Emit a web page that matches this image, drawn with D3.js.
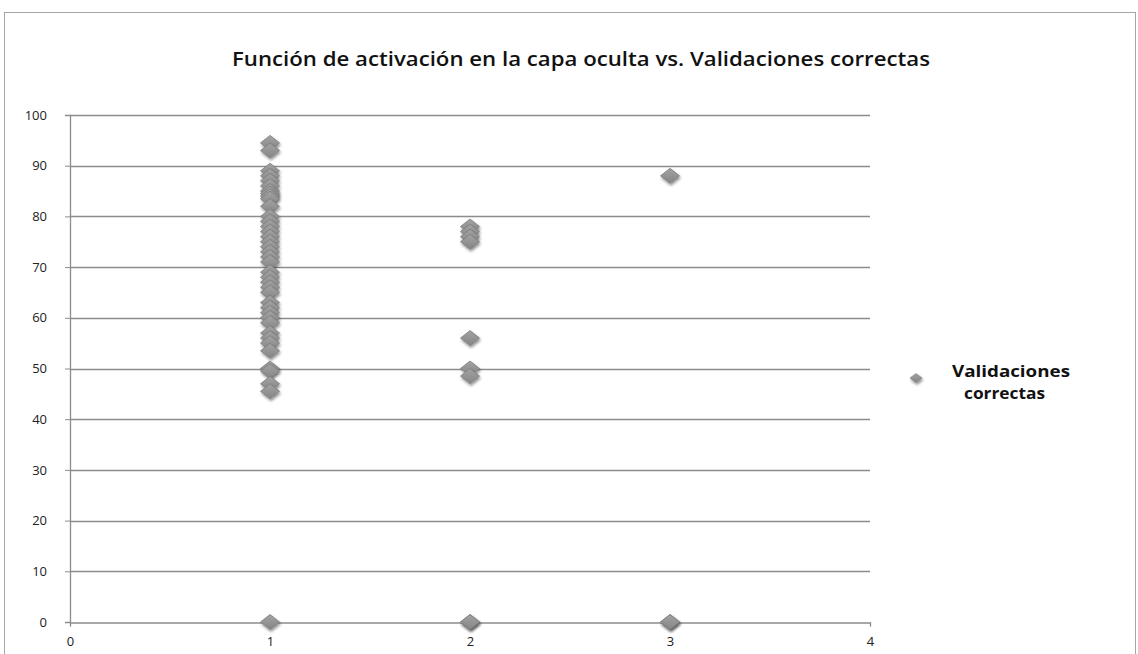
<!DOCTYPE html>
<html>
<head>
<meta charset="utf-8">
<script src="https://cdn.jsdelivr.net/npm/d3@7"></script>
<style>
  html, body { margin: 0; padding: 0; background: #fff; }
  svg { display: block; }
</style>
</head>
<body>
<svg id="chart" width="1138" height="654"></svg>
<script>
// Activation function index (1, 2, 3) for each run
const funcX1 = 1, funcX2 = 2, funcX3 = 3;
// Correct validations (%) observed for each activation function
const valoresFuncion1 = [94.5, 93, 89, 88, 87, 86, 85, 84.5, 84, 83.5, 82, 80, 79, 78, 77, 76, 75, 74,
  73, 72, 71, 69, 68, 67, 66, 65, 63, 62, 61, 60, 59, 57, 56, 55, 53.5, 50, 49.5, 47, 45.5, 0];
const valoresFuncion2 = [78, 77, 76, 75, 56, 50, 48.5, 0, 0];
const valoresFuncion3 = [88, 0, 0];
const xTicks = [0, 1, 2, 3, 4];
const yTicks = [0, 10, 20, 30, 40, 50, 60, 70, 80, 90, 100];
const titulo = "Función de activación en la capa oculta vs. Validaciones correctas";
const serie = ["Validaciones", "correctas"];

const puntos = [
  ...valoresFuncion1.map(v => ({ x: funcX1, y: v })),
  ...valoresFuncion2.map(v => ({ x: funcX2, y: v })),
  ...valoresFuncion3.map(v => ({ x: funcX3, y: v }))
];

const svg = d3.select("#chart");
const font = "'Open Sans', 'Liberation Sans', sans-serif";

// soft drop shadow for markers
const defs = svg.append("defs");
const f = defs.append("filter").attr("id", "sombra").attr("x", "-50%").attr("y", "-50%").attr("width", "200%").attr("height", "200%");
f.append("feGaussianBlur").attr("in", "SourceAlpha").attr("stdDeviation", 1.8).attr("result", "b");
f.append("feOffset").attr("in", "b").attr("dx", 0.5).attr("dy", 1.5).attr("result", "o");
f.append("feComponentTransfer").attr("in", "o").attr("result", "s")
  .append("feFuncA").attr("type", "linear").attr("slope", 0.45);
const m = f.append("feMerge");
m.append("feMergeNode").attr("in", "s");
m.append("feMergeNode").attr("in", "SourceGraphic");

const grad = defs.append("linearGradient").attr("id", "rombo").attr("x1", 0).attr("y1", 0).attr("x2", 0).attr("y2", 1);
grad.append("stop").attr("offset", "0%").attr("stop-color", "#a3a3a3");
grad.append("stop").attr("offset", "100%").attr("stop-color", "#858585");

// outer frame
svg.append("rect").attr("x", 4.5).attr("y", 12.5).attr("width", 1131).attr("height", 660)
  .attr("fill", "none").attr("stroke", "#a6a6a6").attr("stroke-width", 1);

const x = d3.scaleLinear().domain([0, 4]).range([70, 870]);
const y = d3.scaleLinear().domain([0, 100]).range([622, 115]);

// horizontal gridlines
svg.append("g").selectAll("line").data(yTicks.filter(t => t > 0)).join("line")
  .attr("x1", x(0)).attr("x2", x(4))
  .attr("y1", d => Math.round(y(d)) + 0.5).attr("y2", d => Math.round(y(d)) + 0.5)
  .attr("stroke", "#8c8c8c").attr("stroke-width", 1.3);

// y axis
const gy = svg.append("g").attr("transform", `translate(${x(0)},0)`)
  .call(d3.axisLeft(y).tickValues(yTicks).tickFormat(d3.format("d")).tickSize(5).tickPadding(18));
gy.select(".domain").attr("stroke", "#8c8c8c").attr("stroke-width", 1.3);
gy.selectAll(".tick line").attr("stroke", "#8c8c8c");
gy.selectAll("text").attr("font-family", font).attr("font-size", 13).attr("fill", "#222");

// x axis
const gx = svg.append("g").attr("transform", `translate(0,${Math.round(y(0)) + 0.5})`)
  .call(d3.axisBottom(x).tickValues(xTicks).tickFormat(d3.format("d")).tickSize(4).tickPadding(10));
gx.select(".domain").attr("stroke", "#8c8c8c").attr("stroke-width", 1.3);
gx.selectAll(".tick line").attr("stroke", "#8c8c8c");
gx.selectAll("text").attr("font-family", font).attr("font-size", 13).attr("fill", "#222");

// diamond markers
const rombo = "M0,-7.5 L9.5,0 L0,7.5 L-9.5,0 Z";
svg.append("g").selectAll("path").data(puntos).join("path")
  .attr("d", rombo)
  .attr("transform", d => `translate(${x(d.x)},${y(d.y)})`)
  .attr("fill", "url(#rombo)")
  .attr("stroke", "#7d7d7d").attr("stroke-width", 0.8)
  .attr("filter", "url(#sombra)");

// title
svg.append("text").attr("x", 581).attr("y", 66).attr("text-anchor", "middle")
  .attr("font-family", font).attr("font-weight", 600).attr("font-size", 19)
  .attr("fill", "#111").attr("textLength", 698).attr("lengthAdjust", "spacingAndGlyphs")
  .text(titulo);

// legend
svg.append("path").attr("d", "M0,-4.5 L6,0 L0,4.5 L-6,0 Z")
  .attr("transform", "translate(916,378)")
  .attr("fill", "url(#rombo)").attr("stroke", "#7d7d7d").attr("stroke-width", 0.6)
  .attr("filter", "url(#sombra)");
const leg = svg.append("g").attr("font-family", font).attr("font-weight", 700)
  .attr("font-size", 16).attr("fill", "#111");
leg.append("text").attr("x", 952).attr("y", 377)
  .attr("textLength", 118).attr("lengthAdjust", "spacingAndGlyphs").text(serie[0]);
leg.append("text").attr("x", 964).attr("y", 399)
  .attr("textLength", 81).attr("lengthAdjust", "spacingAndGlyphs").text(serie[1]);
</script>
</body>
</html>
